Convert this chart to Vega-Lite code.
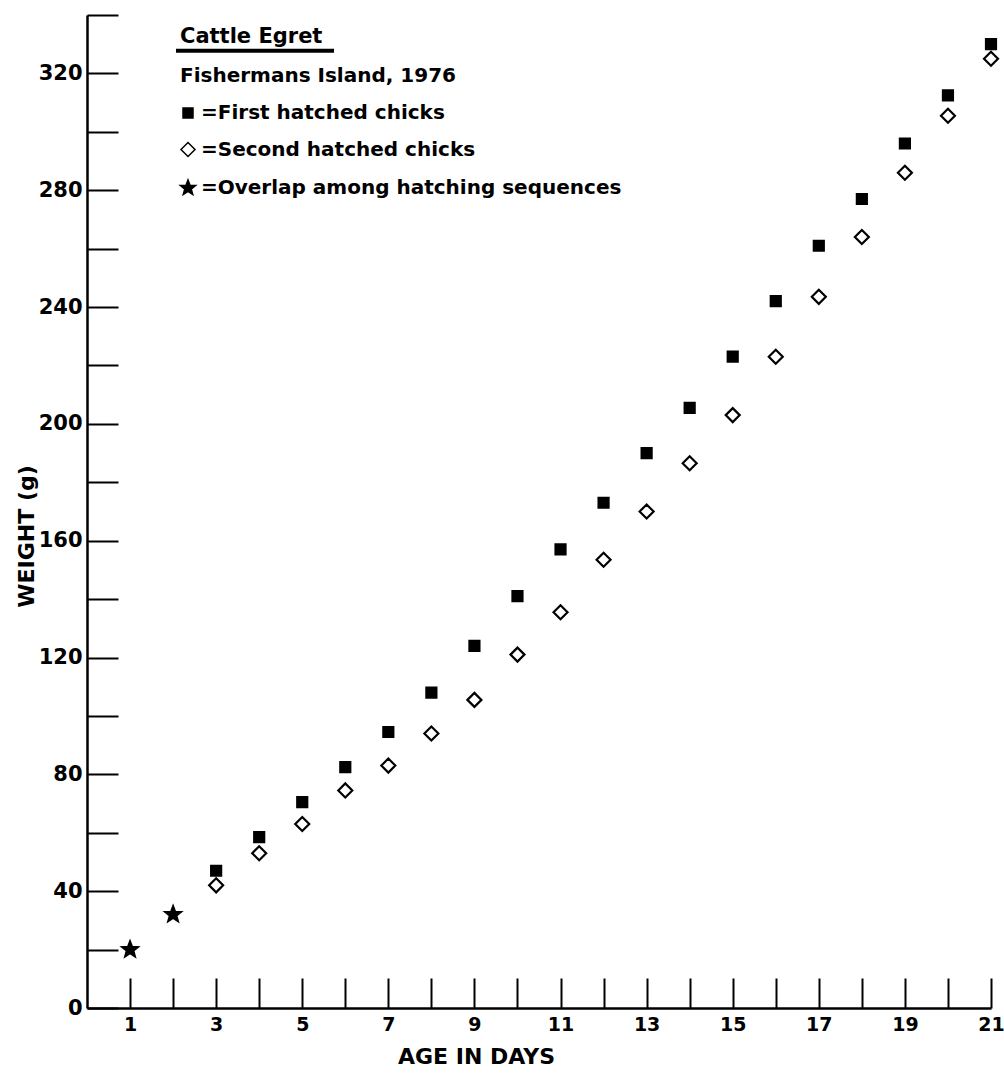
{
  "$schema": "https://vega.github.io/schema/vega-lite/v6.json",
  "width": 904,
  "height": 993,
  "autosize": "none",
  "padding": {"left": 87, "top": 15, "right": 13, "bottom": 65},
  "background": "white",
  "config": {"view": {"stroke": null}, "font": "DejaVu Sans"},
  "datasets": {
    "weights": [
      {"day": 1, "weight": 20, "series": "Overlap among hatching sequences"},
      {"day": 2, "weight": 32, "series": "Overlap among hatching sequences"},
      {"day": 3, "weight": 47, "series": "First hatched chicks"},
      {"day": 4, "weight": 58.5, "series": "First hatched chicks"},
      {"day": 5, "weight": 70.5, "series": "First hatched chicks"},
      {"day": 6, "weight": 82.5, "series": "First hatched chicks"},
      {"day": 7, "weight": 94.5, "series": "First hatched chicks"},
      {"day": 8, "weight": 108, "series": "First hatched chicks"},
      {"day": 9, "weight": 124, "series": "First hatched chicks"},
      {"day": 10, "weight": 141, "series": "First hatched chicks"},
      {"day": 11, "weight": 157, "series": "First hatched chicks"},
      {"day": 12, "weight": 173, "series": "First hatched chicks"},
      {"day": 13, "weight": 190, "series": "First hatched chicks"},
      {"day": 14, "weight": 205.5, "series": "First hatched chicks"},
      {"day": 15, "weight": 223, "series": "First hatched chicks"},
      {"day": 16, "weight": 242, "series": "First hatched chicks"},
      {"day": 17, "weight": 261, "series": "First hatched chicks"},
      {"day": 18, "weight": 277, "series": "First hatched chicks"},
      {"day": 19, "weight": 296, "series": "First hatched chicks"},
      {"day": 20, "weight": 312.5, "series": "First hatched chicks"},
      {"day": 21, "weight": 330, "series": "First hatched chicks"},
      {"day": 3, "weight": 42, "series": "Second hatched chicks"},
      {"day": 4, "weight": 53, "series": "Second hatched chicks"},
      {"day": 5, "weight": 63, "series": "Second hatched chicks"},
      {"day": 6, "weight": 74.5, "series": "Second hatched chicks"},
      {"day": 7, "weight": 83, "series": "Second hatched chicks"},
      {"day": 8, "weight": 94, "series": "Second hatched chicks"},
      {"day": 9, "weight": 105.5, "series": "Second hatched chicks"},
      {"day": 10, "weight": 121, "series": "Second hatched chicks"},
      {"day": 11, "weight": 135.5, "series": "Second hatched chicks"},
      {"day": 12, "weight": 153.5, "series": "Second hatched chicks"},
      {"day": 13, "weight": 170, "series": "Second hatched chicks"},
      {"day": 14, "weight": 186.5, "series": "Second hatched chicks"},
      {"day": 15, "weight": 203, "series": "Second hatched chicks"},
      {"day": 16, "weight": 223, "series": "Second hatched chicks"},
      {"day": 17, "weight": 243.5, "series": "Second hatched chicks"},
      {"day": 18, "weight": 264, "series": "Second hatched chicks"},
      {"day": 19, "weight": 286, "series": "Second hatched chicks"},
      {"day": 20, "weight": 305.5, "series": "Second hatched chicks"},
      {"day": 21, "weight": 325, "series": "Second hatched chicks"}
    ],
    "notes": [
      {"text": "Cattle Egret", "day": 2.16, "weight": 330.4},
      {"text": "Fishermans Island, 1976", "day": 2.16, "weight": 317.1}
    ],
    "underline": [
      {"from": 2.067, "to": 5.738, "weight": 327.8}
    ]
  },
  "layer": [
    {
      "data": {"name": "weights"},
      "mark": {"type": "point", "filled": true, "stroke": "black", "strokeWidth": 2.2, "opacity": 1},
      "encoding": {
        "x": {
          "field": "day", "type": "quantitative",
          "scale": {"domain": [0, 21], "nice": false, "zero": false},
          "axis": {
            "orient": "bottom",
            "values": [1,2,3,4,5,6,7,8,9,10,11,12,13,14,15,16,17,18,19,20,21],
            "grid": false,
            "tickSize": -30, "tickWidth": 2, "tickColor": "black",
            "domainColor": "black", "domainWidth": 2.5,
            "labelExpr": "datum.value % 2 == 1 ? datum.label : ''",
            "labelFont": "DejaVu Sans", "labelFontWeight": "bold", "labelFontSize": 19, "labelColor": "black",
            "labelPadding": 37, "labelFlush": false, "labelOverlap": false,
            "title": "AGE IN DAYS",
            "titleFont": "DejaVu Sans", "titleFontWeight": "bold", "titleFontSize": 22, "titleColor": "black",
            "titleX": 389, "titleY": 48, "titleBaseline": "middle", "titleAlign": "center"
          }
        },
        "y": {
          "field": "weight", "type": "quantitative",
          "scale": {"domain": [0, 340], "nice": false, "zero": true},
          "axis": {
            "values": [0,20,40,60,80,100,120,140,160,180,200,220,240,260,280,300,320,340],
            "grid": false,
            "tickSize": -31, "tickWidth": 2, "tickColor": "black",
            "domainColor": "black", "domainWidth": 2.5,
            "labelExpr": "datum.value % 40 == 0 && datum.value < 340 ? datum.label : ''",
            "labelFont": "DejaVu Sans", "labelFontWeight": "bold", "labelFontSize": 21, "labelColor": "black",
            "labelPadding": 36, "labelFlush": false, "labelOverlap": false,
            "title": "WEIGHT (g)",
            "titleFont": "DejaVu Sans", "titleFontWeight": "bold", "titleFontSize": 22, "titleColor": "black",
            "titleX": -61, "titleY": 521, "titleBaseline": "middle", "titleAlign": "center", "titleAngle": 270
          }
        },
        "shape": {
          "field": "series", "type": "nominal",
          "scale": {"domain": ["First hatched chicks", "Second hatched chicks", "Overlap among hatching sequences"], "range": ["square", "diamond", "M0,-1L0.25,-0.34L0.951,-0.309L0.4,0.13L0.588,0.809L0,0.42L-0.588,0.809L-0.4,0.13L-0.951,-0.309L-0.25,-0.34Z"]},
          "legend": {
            "title": null, "orient": "none", "legendX": 91, "legendY": 88,
            "labelFont": "DejaVu Sans", "labelFontWeight": "bold", "labelFontSize": 20, "labelColor": "black",
            "labelExpr": "'=' + datum.label", "labelLimit": 700, "rowPadding": 16.5, "labelOffset": 3,
            "encode": {"symbols": {"update": {"stroke": {"value": "black"}, "strokeWidth": {"value": 2.2}}}}
          }
        },
        "fill": {
          "field": "series", "type": "nominal",
          "scale": {"domain": ["First hatched chicks", "Second hatched chicks", "Overlap among hatching sequences"], "range": ["black", "white", "black"]},
          "legend": {
            "title": null, "orient": "none", "legendX": 91, "legendY": 88,
            "labelFont": "DejaVu Sans", "labelFontWeight": "bold", "labelFontSize": 20, "labelColor": "black",
            "labelExpr": "'=' + datum.label", "labelLimit": 700, "rowPadding": 16.5, "labelOffset": 3,
            "encode": {"symbols": {"update": {"stroke": {"value": "black"}, "strokeWidth": {"value": 2.2}}}}
          }
        },
        "size": {
          "field": "series", "type": "nominal",
          "scale": {"type": "ordinal", "domain": ["First hatched chicks", "Second hatched chicks", "Overlap among hatching sequences"], "range": [100, 196, 260]},
          "legend": {
            "title": null, "orient": "none", "legendX": 91, "legendY": 88,
            "labelFont": "DejaVu Sans", "labelFontWeight": "bold", "labelFontSize": 20, "labelColor": "black",
            "labelExpr": "'=' + datum.label", "labelLimit": 700, "rowPadding": 16.5, "labelOffset": 3,
            "encode": {"symbols": {"update": {"stroke": {"value": "black"}, "strokeWidth": {"value": 2.2}}}}
          }
        }
      }
    },
    {
      "data": {"name": "notes"},
      "transform": [{"filter": "datum.text == 'Cattle Egret'"}],
      "mark": {"type": "text", "align": "left", "baseline": "alphabetic", "font": "DejaVu Sans", "fontWeight": "bold", "fontSize": 21, "color": "black"},
      "encoding": {
        "x": {"field": "day", "type": "quantitative"},
        "y": {"field": "weight", "type": "quantitative"},
        "text": {"field": "text"}
      }
    },
    {
      "data": {"name": "notes"},
      "transform": [{"filter": "datum.text != 'Cattle Egret'"}],
      "mark": {"type": "text", "align": "left", "baseline": "alphabetic", "font": "DejaVu Sans", "fontWeight": "bold", "fontSize": 20, "color": "black"},
      "encoding": {
        "x": {"field": "day", "type": "quantitative"},
        "y": {"field": "weight", "type": "quantitative"},
        "text": {"field": "text"}
      }
    },
    {
      "data": {"name": "underline"},
      "mark": {"type": "rule", "color": "black", "strokeWidth": 4},
      "encoding": {
        "x": {"field": "from", "type": "quantitative"},
        "x2": {"field": "to"},
        "y": {"field": "weight", "type": "quantitative"}
      }
    }
  ]
}
